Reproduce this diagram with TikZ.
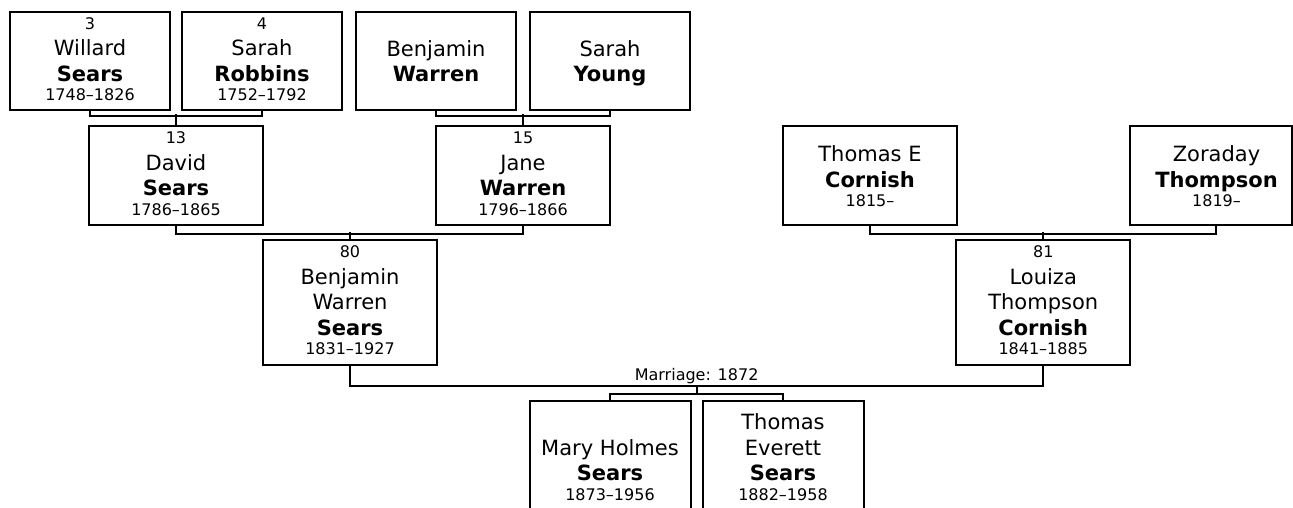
\documentclass[tikz,border=0pt]{standalone}
\usepackage{fontspec}
\setmainfont{DejaVu Sans}
\usetikzlibrary{calc}
\newcommand{\card}[1]{\vbox{\baselineskip=0pt\lineskip=0pt\lineskiplimit=0pt\halign{\hfil##\hfil\cr#1\crcr}}}
\newcommand{\numln}[1]{\fontsize{16}{16}\selectfont\rule[-5.5pt]{0pt}{17.1pt}#1}
\newcommand{\nmln}[1]{\fontsize{21}{21}\selectfont\rule[-4.5pt]{0pt}{25.5pt}#1}
\newcommand{\bdln}[1]{\fontsize{21}{21}\selectfont\bfseries\rule[-4.5pt]{0pt}{25.5pt}#1}
\newcommand{\dtln}[1]{\fontsize{16}{16}\selectfont\rule[-4pt]{0pt}{19pt}#1}
\begin{document}
\begin{tikzpicture}[x=1pt,y=-1pt,line width=2pt,
  person/.style={draw,line width=2pt,inner sep=0pt},
  rowone/.style={person,minimum width=160pt,minimum height=98pt},
  rowtwo/.style={person,minimum width=174pt,minimum height=99pt},
  rowthree/.style={person,minimum width=174pt,minimum height=125pt},
  kid/.style={person,minimum width=161pt,minimum height=112pt},
  link/.style={draw,line width=2pt}]
\useasboundingbox (0,0) rectangle (1293,508);
\clip (0,0) rectangle (1293,508);
% row 1
\node[rowone] (wil) at (90,61) {\card{\numln{3}\cr\nmln{Willard}\cr\bdln{Sears}\cr\dtln{1748–1826}}};
\node[rowone] (sar) at (262,61) {\card{\numln{4}\cr\nmln{Sarah}\cr\bdln{Robbins}\cr\dtln{1752–1792}}};
\node[rowone] (ben) at (436,61) {\card{\nmln{Benjamin}\cr\bdln{Warren}}};
\node[rowone] (you) at (610,61) {\card{\nmln{Sarah}\cr\bdln{Young}}};
% row 2
\node[rowtwo] (dav) at (176,175.5) {\card{\numln{13}\cr\nmln{David}\cr\bdln{Sears}\cr\dtln{1786–1865}}};
\node[rowtwo] (jan) at (523,175.5) {\card{\numln{15}\cr\nmln{Jane}\cr\bdln{Warren}\cr\dtln{1796–1866}}};
\node[rowtwo] (tho) at (870,175.5) {\card{\nmln{Thomas E}\cr\bdln{Cornish}\cr\dtln{1815–}}};
\node[person,minimum width=162.5pt,minimum height=99pt] (zor) at (1210.75,175.5) {\hbox{\kern11.5pt\card{\nmln{Zoraday}\cr\bdln{Thompson}\cr\dtln{1819–}}}};
% row 3
\node[rowthree] (bws) at (350,302.5) {\card{\numln{80}\cr\nmln{Benjamin}\cr\nmln{Warren}\cr\bdln{Sears}\cr\dtln{1831–1927}}};
\node[rowthree] (ltc) at (1043.25,302.5) {\card{\numln{81}\cr\nmln{Louiza}\cr\nmln{Thompson}\cr\bdln{Cornish}\cr\dtln{1841–1885}}};
% children
\node[kid] (mhs) at (610,456.7) {\card{\nmln{}\cr\nmln{Mary Holmes}\cr\bdln{Sears}\cr\dtln{1873–1956}}};
\node[kid] (tes) at (783,456.7) {\card{\nmln{Thomas}\cr\nmln{Everett}\cr\bdln{Sears}\cr\dtln{1882–1958}}};
% connectors
\draw[link] (wil.south) -- ++(0,5) -| (sar.south);
\draw[link] (dav.north) -- ++(0,-11);
\draw[link] (ben.south) -- ++(0,5) -| (you.south);
\draw[link] (jan.north) -- ++(0,-11);
\draw[link] (dav.south) -- ++(0,7.5) -| (jan.south);
\draw[link] (bws.north) -- ++(0,-7.5);
\coordinate (zdrop) at ($(zor.south west)+(87,0)$);
\draw[link] (tho.south) -- ++(0,7.5) -| (zdrop);
\draw[link] (ltc.north) -- ++(0,-7.5);
\draw[link] (bws.south) -- ++(0,20) -| (ltc.south);
\coordinate (mc) at ($(bws.south)!0.5!(ltc.south)+(0,20)$);
\node[anchor=south,inner sep=0pt,font=\fontsize{16}{16}\selectfont] (mlabel) at ($(mc)+(0,-1)$) {Marriage: 1872};
\draw[link] (mc) -- ++(0,8) coordinate (kc);
\draw[link] (mhs.north) |- (kc) -| (tes.north);
\end{tikzpicture}
\end{document}
